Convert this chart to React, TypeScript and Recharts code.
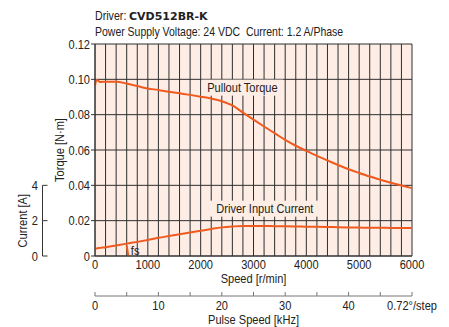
import React from 'react';
import { LineChart, Line, XAxis, YAxis, CartesianGrid, ReferenceLine, ReferenceDot } from 'recharts';

// ---------- data ----------
const speeds = [0, 30, 100, 200, 400, 600, 800, 1000, 1200, 1400, 1600, 1800, 2000, 2200, 2400, 2600, 2800, 3000, 3200, 3400, 3600, 3800, 4000, 4200, 4400, 4600, 4800, 5000, 5200, 5400, 5600, 5800, 6000];
const pulloutTorque = [0.0965, 0.0996, 0.0985, 0.0987, 0.0987, 0.0976, 0.0962, 0.0948, 0.094, 0.093, 0.0921, 0.0912, 0.0902, 0.0891, 0.0876, 0.0852, 0.0812, 0.0772, 0.0733, 0.0695, 0.0657, 0.0624, 0.0595, 0.0567, 0.0541, 0.0515, 0.0491, 0.047, 0.045, 0.0432, 0.0415, 0.0399, 0.0384];
const inputCurrent = [0.42, 0.43, 0.46, 0.5, 0.6, 0.7, 0.8, 0.91, 1.03, 1.13, 1.23, 1.33, 1.43, 1.53, 1.62, 1.67, 1.7, 1.7, 1.7, 1.69, 1.68, 1.67, 1.66, 1.65, 1.64, 1.63, 1.62, 1.61, 1.6, 1.6, 1.59, 1.59, 1.58];

// 0.72°/step -> 500 pulses per revolution: pulse speed [kHz] = speed [r/min] * 500 / 60 / 1000
const PULSES_PER_REV = 500;

const speedTicks = [0, 1000, 2000, 3000, 4000, 5000, 6000];
const gridSpeeds = [0, 200, 400, 600, 800, 1000, 1200, 1400, 1600, 1800, 2000, 2200, 2400, 2600, 2800, 3000, 3200, 3400, 3600, 3800, 4000, 4200, 4400, 4600, 4800, 5000, 5200, 5400, 5600, 5800, 6000];
const torqueTicks = [0, 0.02, 0.04, 0.06, 0.08, 0.1, 0.12];
const currentTicks = [0, 2, 4];
const pulseTicks = [0, 5, 10, 15, 20, 25, 30, 35, 40, 45, 50];
const pulseTickLabels = ['0', '', '10', '', '20', '', '30', '', '40', '', '0.72°/step'];

const fsSegment = [{ x: 600, y: 0.006 }, { x: 630, y: 0 }];
const fsLabel = { x: 760, y: 0.0035, text: 'fs' };
const pulloutLabel = { x: 2790, y: 0.0953, text: 'Pullout Torque' };
const currentLabel = { x: 3215, y: 0.0268, text: 'Driver Input Current' };

const titleDriver = 'Driver: ';
const titleModel = 'CVD512BR-K';
const titleSub = 'Power Supply Voltage: 24 VDC  Current: 1.2 A/Phase';

const table = speeds.map((s, i) => ({
  speed: s,
  pulse: (s * PULSES_PER_REV) / 60 / 1000,
  torque: pulloutTorque[i],
  current: inputCurrent[i],
}));

// ---------- styles ----------
const ORANGE = '#f05a1e';
const GRID = '#2e2e2e';
const BG = '#fdede5';
const TEXT = '#222';
const FONT = '"Liberation Sans", Arial, sans-serif';
const NARROW = 0.82;
const FS = 13.5;

type NTProps = { x: number; y: number; anchor?: 'start' | 'middle' | 'end'; size?: number; dy?: string; rotate?: number; children: React.ReactNode };
const NText = ({ x, y, anchor = 'middle', size = FS, dy = '0.35em', rotate = 0, children }: NTProps) => (
  <text
    x={0}
    y={0}
    dy={dy}
    textAnchor={anchor}
    fontSize={size}
    fontFamily={FONT}
    fill={TEXT}
    transform={`translate(${x} ${y}) rotate(${rotate}) scale(${NARROW} 1)`}
  >
    {children}
  </text>
);

const AnnotationShape = (text: string, w: number) => (props: any) => {
  const { cx, cy } = props;
  return (
    <g>
      <rect x={cx - w / 2} y={cy - 8} width={w} height={16} fill={BG} />
      <NText x={cx} y={cy}>{text}</NText>
    </g>
  );
};

const FsShape = (props: any) => <NText x={props.cx} y={props.cy}>{fsLabel.text}</NText>;

const SpeedTick = (props: any) => {
  const { x, y, payload } = props;
  return <NText x={x} y={y} dy="0.71em">{String(payload.value)}</NText>;
};

const TorqueTick = (props: any) => {
  const { x, y, payload } = props;
  const v = payload.value as number;
  return <NText x={x} y={y} anchor="end">{v === 0 ? '0' : v.toFixed(2)}</NText>;
};

let prevCurrentY: number | null = null;
const CurrentTick = (props: any) => {
  const { x, y, payload, index } = props;
  const ax = x - 0.5;
  const prev = index === 0 ? null : prevCurrentY;
  prevCurrentY = y;
  return (
    <g>
      {prev !== null && <line x1={ax} y1={prev} x2={ax} y2={y} stroke="#333" strokeWidth={1} />}
      <line x1={ax} y1={y} x2={ax + 5} y2={y} stroke="#333" strokeWidth={1} />
      <NText x={ax - 4.5} y={y} anchor="end">{String(payload.value)}</NText>
      {payload.value === 2 && <NText x={ax - 20} y={y} rotate={-90}>Current [A]</NText>}
    </g>
  );
};

const PulseTick = (props: any) => {
  const { x, y, index } = props;
  return (
    <g>
      <line x1={x} y1={y} x2={x} y2={y - 4} stroke="#777" strokeWidth={1} />
      <NText x={x} y={y + 4} dy="0.71em">{pulseTickLabels[index]}</NText>
    </g>
  );
};

const TorqueLabel = (props: any) => {
  const vb = props.viewBox || { x: 43, y: 44, width: 52, height: 212 };
  return <NText x={vb.x + 16} y={vb.y + vb.height / 2} rotate={-90}>Torque [N·m]</NText>;
};

const SpeedLabel = (props: any) => {
  const vb = props.viewBox || { x: 95, y: 256, width: 317, height: 40 };
  return <NText x={vb.x + vb.width / 2} y={vb.y + 27} dy="0">Speed [r/min]</NText>;
};

const PulseLabel = (props: any) => {
  const vb = props.viewBox || { x: 95, y: 296, width: 317, height: 31 };
  return <NText x={vb.x + vb.width / 2} y={vb.y + 28} dy="0">Pulse Speed [kHz]</NText>;
};

export default function App() {
  return (
    <div style={{ position: 'absolute', left: 0, top: 0, width: 449, height: 327, background: '#fff' }}>
      <svg width={449} height={40} style={{ position: 'absolute', left: 0, top: 0 }}>
        <text x={0} y={0} fontFamily={FONT} fontSize={13} fill={TEXT} transform={`translate(95 20) scale(${NARROW} 1)`}>
          {titleDriver}
        </text>
        <text x={0} y={0} fontFamily='"DejaVu Sans", sans-serif' fontWeight="bold" fontSize={11} fill={TEXT} transform="translate(129 20)">
          {titleModel}
        </text>
        <text
          x={0}
          y={0}
          fontFamily={FONT}
          fontSize={12.8}
          fill={TEXT}
          style={{ whiteSpace: 'pre' }}
          transform={`translate(95 35.5) scale(${NARROW} 1)`}
        >
          {titleSub}
        </text>
      </svg>
      <div style={{ position: 'absolute', left: 0, top: 0 }}>
        <LineChart width={449} height={327} data={table} margin={{ top: 44, right: 37, bottom: 0, left: 0 }}>
          <CartesianGrid
            xAxisId="a_speed"
            yAxisId="a_torque"
            verticalValues={gridSpeeds}
            horizontalValues={torqueTicks}
            stroke={GRID}
            fill={BG}
            fillOpacity={1}
          />
          <XAxis
            xAxisId="a_speed"
            dataKey="speed"
            type="number"
            domain={[0, 6000]}
            ticks={speedTicks}
            interval={0}
            height={40}
            tickLine={false}
            tickSize={0}
            tickMargin={3}
            axisLine={{ stroke: '#333' }}
            tick={SpeedTick}
            label={<SpeedLabel />}
          />
          <XAxis
            xAxisId="b_pulse"
            dataKey="pulse"
            type="number"
            domain={[0, 50]}
            ticks={pulseTicks}
            interval={0}
            height={31}
            tickLine={false}
            tickSize={0}
            tickMargin={0}
            axisLine={{ stroke: '#777' }}
            tick={PulseTick}
            label={<PulseLabel />}
          />
          <YAxis
            yAxisId="a_torque"
            type="number"
            domain={[0, 0.12]}
            ticks={torqueTicks}
            interval={0}
            width={52}
            tickSize={4}
            tickMargin={1}
            axisLine={{ stroke: '#333' }}
            tickLine={{ stroke: '#333' }}
            tick={TorqueTick}
            label={<TorqueLabel />}
          />
          <YAxis
            yAxisId="b_current"
            type="number"
            domain={[0, 12]}
            ticks={currentTicks}
            interval={0}
            width={43}
            axisLine={false}
            tickLine={false}
            tickSize={0}
            tickMargin={0}
            tick={CurrentTick}
          />
          <Line xAxisId="a_speed" yAxisId="a_torque" dataKey="torque" type="monotone" stroke={ORANGE} strokeWidth={2} dot={false} isAnimationActive={false} />
          <Line xAxisId="a_speed" yAxisId="b_current" dataKey="current" type="monotone" stroke={ORANGE} strokeWidth={2} dot={false} isAnimationActive={false} />
          <ReferenceLine xAxisId="a_speed" yAxisId="a_torque" segment={fsSegment} stroke={ORANGE} strokeWidth={2} />
          <ReferenceDot xAxisId="a_speed" yAxisId="a_torque" x={fsLabel.x} y={fsLabel.y} r={0} shape={FsShape} />
          <ReferenceDot xAxisId="a_speed" yAxisId="a_torque" x={pulloutLabel.x} y={pulloutLabel.y} r={0} shape={AnnotationShape(pulloutLabel.text, 82)} />
          <ReferenceDot xAxisId="a_speed" yAxisId="a_torque" x={currentLabel.x} y={currentLabel.y} r={0} shape={AnnotationShape(currentLabel.text, 110)} />
        </LineChart>
      </div>
    </div>
  );
}
